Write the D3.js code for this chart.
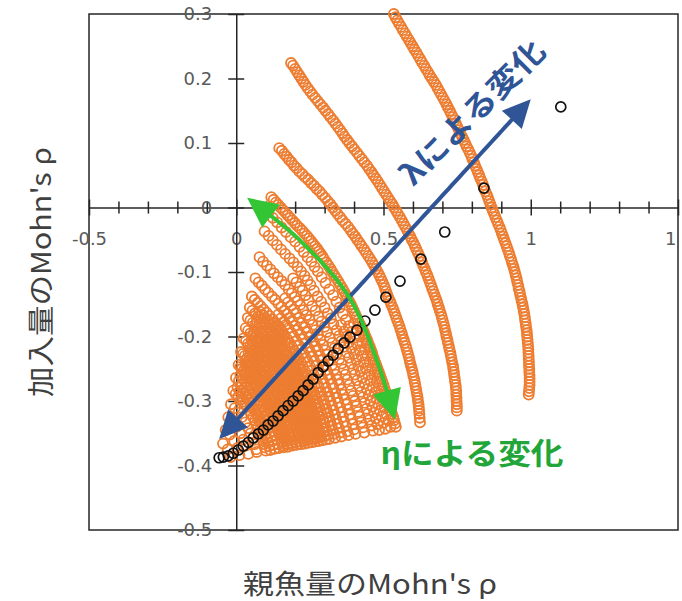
<!DOCTYPE html>
<html>
<head>
<meta charset="utf-8">
<script src="https://cdn.jsdelivr.net/npm/d3@7"></script>
<style>
  body { margin: 0; background: #fff; }
  svg { display: block; }
</style>
</head>
<body>
<svg id="chart" width="682" height="601"></svg>
<script>
// ---- axis ticks ----
const xMajorTicks = [-0.5, 0, 0.5, 1, 1.5];
const xTickLabels = ["-0.5", "0", "0.5", "1", "1"];
const xMinorTicks = [-0.4, -0.3, -0.2, -0.1, 0.1, 0.2, 0.3, 0.4, 0.6, 0.7, 0.8, 0.9, 1.1, 1.2, 1.3, 1.4];
const yTicks = [-0.5, -0.4, -0.3, -0.2, -0.1, 0, 0.1, 0.2, 0.3];
const yTickLabels = ["-0.5", "-0.4", "-0.3", "-0.2", "-0.1", "0", "0.1", "0.2", "0.3"];

// ---- orange series: one arc per λ level, points along each arc vary with η ----
const arc1 = [[0.535,0.300],[0.541,0.295],[0.547,0.290],[0.553,0.285],[0.560,0.280],[0.566,0.275],[0.573,0.270],[0.579,0.265],[0.586,0.260],[0.592,0.255],[0.599,0.250],[0.605,0.245],[0.612,0.240],[0.618,0.235],[0.625,0.230],[0.631,0.225],[0.638,0.220],[0.644,0.215],[0.651,0.210],[0.657,0.205],[0.664,0.200],[0.671,0.195],[0.678,0.190],[0.684,0.185],[0.690,0.180],[0.696,0.175],[0.702,0.170],[0.708,0.165],[0.714,0.160],[0.719,0.155],[0.725,0.150],[0.730,0.145],[0.736,0.140],[0.741,0.135],[0.746,0.130],[0.751,0.125],[0.756,0.120],[0.761,0.115],[0.767,0.110],[0.772,0.105],[0.777,0.100],[0.782,0.095],[0.788,0.090],[0.793,0.085],[0.798,0.080],[0.802,0.075],[0.807,0.070],[0.811,0.065],[0.816,0.060],[0.820,0.055],[0.825,0.050],[0.829,0.045],[0.834,0.040],[0.838,0.035],[0.842,0.030],[0.846,0.025],[0.851,0.020],[0.855,0.015],[0.859,0.010],[0.863,0.005],[0.867,0.000],[0.871,-0.005],[0.876,-0.010],[0.880,-0.015],[0.885,-0.020],[0.889,-0.025],[0.894,-0.030],[0.898,-0.035],[0.902,-0.040],[0.906,-0.045],[0.910,-0.050],[0.914,-0.055],[0.918,-0.060],[0.922,-0.065],[0.926,-0.070],[0.929,-0.075],[0.933,-0.080],[0.936,-0.085],[0.940,-0.090],[0.943,-0.095],[0.946,-0.100],[0.949,-0.105],[0.952,-0.110],[0.954,-0.115],[0.957,-0.120],[0.959,-0.125],[0.962,-0.130],[0.964,-0.135],[0.967,-0.140],[0.969,-0.145],[0.972,-0.150],[0.974,-0.155],[0.976,-0.160],[0.978,-0.165],[0.980,-0.170],[0.981,-0.175],[0.983,-0.180],[0.984,-0.185],[0.986,-0.190],[0.987,-0.195],[0.988,-0.200],[0.989,-0.205],[0.990,-0.210],[0.991,-0.215],[0.992,-0.220],[0.992,-0.225],[0.993,-0.230],[0.993,-0.235],[0.994,-0.240],[0.994,-0.245],[0.995,-0.250],[0.995,-0.255],[0.996,-0.260],[0.996,-0.265],[0.996,-0.270],[0.996,-0.275],[0.995,-0.280],[0.994,-0.285],[0.993,-0.290]];
const arc2 = [[0.186,0.224],[0.193,0.220],[0.200,0.215],[0.207,0.210],[0.214,0.205],[0.221,0.200],[0.228,0.195],[0.235,0.190],[0.243,0.185],[0.251,0.180],[0.259,0.175],[0.268,0.170],[0.277,0.165],[0.286,0.160],[0.295,0.155],[0.303,0.150],[0.312,0.145],[0.320,0.140],[0.329,0.135],[0.337,0.130],[0.345,0.125],[0.353,0.120],[0.361,0.115],[0.368,0.110],[0.376,0.105],[0.384,0.100],[0.393,0.095],[0.401,0.090],[0.410,0.085],[0.418,0.080],[0.427,0.075],[0.435,0.070],[0.444,0.065],[0.451,0.060],[0.459,0.055],[0.466,0.050],[0.474,0.045],[0.481,0.040],[0.488,0.035],[0.495,0.030],[0.502,0.025],[0.509,0.020],[0.516,0.015],[0.523,0.010],[0.530,0.005],[0.536,0.000],[0.543,-0.005],[0.549,-0.010],[0.556,-0.015],[0.562,-0.020],[0.568,-0.025],[0.574,-0.030],[0.580,-0.035],[0.585,-0.040],[0.591,-0.045],[0.596,-0.050],[0.602,-0.055],[0.607,-0.060],[0.612,-0.065],[0.617,-0.070],[0.622,-0.075],[0.626,-0.080],[0.631,-0.085],[0.635,-0.090],[0.640,-0.095],[0.644,-0.100],[0.649,-0.105],[0.653,-0.110],[0.657,-0.115],[0.661,-0.120],[0.665,-0.125],[0.669,-0.130],[0.673,-0.135],[0.677,-0.140],[0.681,-0.145],[0.684,-0.150],[0.688,-0.155],[0.691,-0.160],[0.695,-0.165],[0.698,-0.170],[0.701,-0.175],[0.704,-0.180],[0.707,-0.185],[0.709,-0.190],[0.712,-0.195],[0.714,-0.200],[0.717,-0.205],[0.719,-0.210],[0.722,-0.215],[0.724,-0.220],[0.727,-0.225],[0.729,-0.230],[0.731,-0.235],[0.733,-0.240],[0.736,-0.245],[0.737,-0.250],[0.739,-0.255],[0.740,-0.260],[0.742,-0.265],[0.743,-0.270],[0.745,-0.275],[0.746,-0.280],[0.747,-0.285],[0.747,-0.290],[0.748,-0.295],[0.748,-0.300],[0.749,-0.305],[0.749,-0.310],[0.749,-0.315]];
const arc3 = [[0.146,0.092],[0.155,0.088],[0.163,0.083],[0.171,0.079],[0.179,0.074],[0.188,0.070],[0.196,0.065],[0.205,0.061],[0.214,0.056],[0.224,0.052],[0.234,0.047],[0.244,0.043],[0.254,0.038],[0.264,0.034],[0.273,0.029],[0.283,0.025],[0.292,0.020],[0.302,0.015],[0.311,0.010],[0.320,0.005],[0.328,0.000],[0.336,-0.005],[0.344,-0.010],[0.353,-0.015],[0.361,-0.020],[0.371,-0.025],[0.380,-0.030],[0.388,-0.035],[0.396,-0.040],[0.404,-0.045],[0.411,-0.050],[0.419,-0.055],[0.426,-0.060],[0.434,-0.065],[0.441,-0.070],[0.448,-0.075],[0.455,-0.080],[0.462,-0.085],[0.468,-0.090],[0.474,-0.095],[0.480,-0.100],[0.486,-0.105],[0.491,-0.110],[0.496,-0.115],[0.501,-0.120],[0.505,-0.125],[0.509,-0.130],[0.513,-0.135],[0.517,-0.140],[0.522,-0.145],[0.526,-0.150],[0.531,-0.155],[0.535,-0.160],[0.539,-0.165],[0.543,-0.170],[0.547,-0.175],[0.551,-0.180],[0.555,-0.185],[0.558,-0.190],[0.562,-0.195],[0.565,-0.200],[0.569,-0.205],[0.572,-0.210],[0.576,-0.215],[0.579,-0.220],[0.582,-0.225],[0.585,-0.230],[0.588,-0.235],[0.590,-0.240],[0.593,-0.245],[0.596,-0.250],[0.599,-0.255],[0.601,-0.260],[0.604,-0.265],[0.606,-0.270],[0.608,-0.275],[0.610,-0.280],[0.612,-0.285],[0.614,-0.290],[0.616,-0.295],[0.617,-0.300],[0.619,-0.305],[0.620,-0.310],[0.621,-0.315],[0.622,-0.320],[0.623,-0.326],[0.624,-0.333]];
const arc4 = [[0.119,0.016],[0.127,0.012],[0.135,0.008],[0.143,0.004],[0.151,0.000],[0.159,-0.004],[0.167,-0.008],[0.175,-0.012],[0.183,-0.016],[0.191,-0.020],[0.199,-0.024],[0.207,-0.028],[0.216,-0.032],[0.224,-0.036],[0.232,-0.040],[0.240,-0.044],[0.247,-0.048],[0.254,-0.052],[0.261,-0.056],[0.268,-0.060],[0.275,-0.064],[0.281,-0.068],[0.287,-0.072],[0.293,-0.076],[0.298,-0.080],[0.306,-0.085],[0.313,-0.090],[0.320,-0.095],[0.326,-0.100],[0.333,-0.105],[0.340,-0.110],[0.347,-0.115],[0.353,-0.120],[0.360,-0.125],[0.366,-0.130],[0.372,-0.135],[0.377,-0.140],[0.383,-0.145],[0.389,-0.150],[0.394,-0.155],[0.399,-0.160],[0.404,-0.165],[0.409,-0.170],[0.414,-0.175],[0.419,-0.180],[0.425,-0.185],[0.430,-0.190],[0.435,-0.195],[0.439,-0.200],[0.444,-0.205],[0.448,-0.210],[0.453,-0.215],[0.457,-0.220],[0.461,-0.225],[0.464,-0.230],[0.468,-0.235],[0.472,-0.240],[0.476,-0.245],[0.480,-0.250],[0.484,-0.255],[0.488,-0.260],[0.492,-0.265],[0.496,-0.270],[0.500,-0.275],[0.503,-0.280],[0.507,-0.285],[0.510,-0.290],[0.513,-0.295],[0.516,-0.300],[0.520,-0.305],[0.523,-0.310],[0.526,-0.315],[0.529,-0.320],[0.533,-0.325],[0.536,-0.330],[0.539,-0.335],[0.542,-0.340]];
const arc4b = [[0.399,-0.180],[0.409,-0.190],[0.419,-0.200],[0.428,-0.210],[0.437,-0.220],[0.445,-0.230],[0.453,-0.240],[0.461,-0.250],[0.469,-0.260],[0.477,-0.270],[0.484,-0.280],[0.491,-0.290],[0.498,-0.300],[0.504,-0.310],[0.510,-0.320],[0.517,-0.330],[0.524,-0.340]];
const arc5 = [[0.109,-0.008],[0.124,-0.016],[0.139,-0.023],[0.154,-0.031],[0.169,-0.038],[0.185,-0.046],[0.200,-0.053],[0.215,-0.061],[0.229,-0.069],[0.242,-0.077],[0.255,-0.084],[0.266,-0.092],[0.277,-0.099],[0.290,-0.108],[0.303,-0.117],[0.316,-0.127],[0.329,-0.136],[0.340,-0.146],[0.351,-0.155],[0.362,-0.165],[0.372,-0.174],[0.382,-0.184],[0.391,-0.193],[0.400,-0.202],[0.409,-0.211],[0.418,-0.221],[0.426,-0.230],[0.433,-0.240],[0.440,-0.249],[0.448,-0.259],[0.455,-0.268],[0.463,-0.278],[0.470,-0.287],[0.476,-0.296],[0.482,-0.305],[0.488,-0.315],[0.494,-0.324],[0.500,-0.334],[0.506,-0.343]];
const arc5b = [[0.356,-0.182],[0.366,-0.192],[0.374,-0.200],[0.383,-0.209],[0.392,-0.218],[0.401,-0.227],[0.408,-0.236],[0.415,-0.246],[0.422,-0.254],[0.429,-0.264],[0.436,-0.273],[0.444,-0.282],[0.450,-0.291],[0.456,-0.300],[0.462,-0.309],[0.468,-0.318],[0.474,-0.327],[0.480,-0.336],[0.485,-0.345]];
const arc6 = [[0.096,-0.037],[0.110,-0.044],[0.124,-0.051],[0.138,-0.058],[0.152,-0.065],[0.166,-0.072],[0.181,-0.079],[0.194,-0.085],[0.208,-0.092],[0.220,-0.099],[0.232,-0.106],[0.242,-0.113],[0.252,-0.120],[0.264,-0.129],[0.276,-0.138],[0.288,-0.146],[0.300,-0.155],[0.310,-0.164],[0.321,-0.172],[0.330,-0.181],[0.340,-0.190],[0.349,-0.199],[0.357,-0.207],[0.366,-0.216],[0.375,-0.225],[0.383,-0.233],[0.390,-0.242],[0.397,-0.251],[0.403,-0.259],[0.410,-0.268],[0.417,-0.277],[0.424,-0.286],[0.430,-0.294],[0.436,-0.303],[0.442,-0.312],[0.447,-0.320],[0.453,-0.329],[0.459,-0.338],[0.464,-0.346]];
const arc6b = [[0.193,-0.110],[0.204,-0.116],[0.216,-0.123],[0.225,-0.129],[0.235,-0.136],[0.246,-0.144],[0.257,-0.153],[0.269,-0.160],[0.280,-0.169],[0.289,-0.177],[0.300,-0.185],[0.308,-0.193],[0.318,-0.202],[0.326,-0.210],[0.334,-0.218],[0.342,-0.226],[0.350,-0.235],[0.358,-0.242],[0.365,-0.251],[0.371,-0.259],[0.377,-0.267],[0.384,-0.275],[0.390,-0.284],[0.397,-0.292],[0.403,-0.300],[0.408,-0.308],[0.414,-0.317],[0.419,-0.324],[0.424,-0.333],[0.430,-0.341],[0.435,-0.349]];
const arc7 = [[0.079,-0.077],[0.091,-0.084],[0.104,-0.090],[0.116,-0.096],[0.128,-0.102],[0.141,-0.108],[0.154,-0.114],[0.166,-0.120],[0.178,-0.127],[0.188,-0.133],[0.199,-0.139],[0.208,-0.145],[0.217,-0.151],[0.228,-0.159],[0.238,-0.167],[0.249,-0.174],[0.259,-0.182],[0.268,-0.190],[0.278,-0.197],[0.286,-0.205],[0.295,-0.213],[0.302,-0.221],[0.310,-0.228],[0.318,-0.236],[0.325,-0.244],[0.332,-0.251],[0.339,-0.259],[0.345,-0.267],[0.351,-0.274],[0.357,-0.282],[0.363,-0.290],[0.369,-0.298],[0.375,-0.305],[0.380,-0.313],[0.385,-0.321],[0.390,-0.328],[0.395,-0.336],[0.400,-0.344],[0.405,-0.351]];
const arc7b = [[0.166,-0.141],[0.176,-0.147],[0.186,-0.152],[0.195,-0.158],[0.203,-0.164],[0.214,-0.171],[0.223,-0.179],[0.234,-0.186],[0.243,-0.193],[0.252,-0.201],[0.261,-0.207],[0.269,-0.215],[0.277,-0.222],[0.284,-0.230],[0.291,-0.237],[0.299,-0.244],[0.306,-0.252],[0.312,-0.259],[0.319,-0.266],[0.325,-0.274],[0.330,-0.280],[0.336,-0.288],[0.342,-0.295],[0.347,-0.303],[0.353,-0.310],[0.358,-0.317],[0.362,-0.325],[0.367,-0.332],[0.372,-0.339],[0.377,-0.347],[0.381,-0.353]];
const arc8 = [[0.065,-0.110],[0.076,-0.116],[0.087,-0.121],[0.098,-0.127],[0.109,-0.132],[0.121,-0.138],[0.132,-0.143],[0.143,-0.149],[0.153,-0.154],[0.163,-0.160],[0.173,-0.165],[0.181,-0.171],[0.189,-0.176],[0.199,-0.183],[0.208,-0.190],[0.218,-0.197],[0.227,-0.204],[0.235,-0.211],[0.243,-0.217],[0.251,-0.224],[0.258,-0.231],[0.265,-0.238],[0.272,-0.245],[0.279,-0.252],[0.286,-0.259],[0.292,-0.266],[0.298,-0.273],[0.304,-0.280],[0.309,-0.286],[0.315,-0.293],[0.320,-0.300],[0.325,-0.307],[0.330,-0.314],[0.335,-0.321],[0.339,-0.328],[0.344,-0.335],[0.348,-0.342],[0.353,-0.349],[0.357,-0.355]];
const arc8b = [[0.143,-0.166],[0.152,-0.172],[0.162,-0.177],[0.169,-0.182],[0.177,-0.187],[0.186,-0.194],[0.195,-0.200],[0.204,-0.207],[0.213,-0.214],[0.221,-0.220],[0.228,-0.226],[0.236,-0.233],[0.242,-0.239],[0.249,-0.246],[0.256,-0.253],[0.262,-0.259],[0.269,-0.266],[0.275,-0.273],[0.280,-0.279],[0.286,-0.286],[0.291,-0.292],[0.296,-0.298],[0.301,-0.305],[0.306,-0.312],[0.311,-0.318],[0.315,-0.325],[0.319,-0.331],[0.324,-0.338],[0.328,-0.345],[0.332,-0.351],[0.336,-0.357]];
const arc9 = [[0.053,-0.138],[0.063,-0.143],[0.073,-0.148],[0.083,-0.153],[0.093,-0.158],[0.103,-0.163],[0.113,-0.168],[0.123,-0.173],[0.132,-0.178],[0.141,-0.183],[0.150,-0.188],[0.157,-0.193],[0.164,-0.198],[0.173,-0.204],[0.181,-0.210],[0.190,-0.217],[0.198,-0.223],[0.206,-0.229],[0.213,-0.235],[0.220,-0.241],[0.226,-0.247],[0.233,-0.254],[0.239,-0.260],[0.245,-0.266],[0.251,-0.272],[0.257,-0.279],[0.262,-0.285],[0.267,-0.291],[0.272,-0.297],[0.277,-0.303],[0.282,-0.309],[0.287,-0.316],[0.291,-0.322],[0.295,-0.328],[0.299,-0.334],[0.303,-0.341],[0.307,-0.347],[0.311,-0.353],[0.315,-0.359]];
const arc9b = [[0.079,-0.161],[0.088,-0.166],[0.098,-0.171],[0.108,-0.175],[0.117,-0.180],[0.126,-0.185],[0.135,-0.190],[0.143,-0.195],[0.150,-0.200],[0.157,-0.204],[0.166,-0.210],[0.174,-0.216],[0.182,-0.223],[0.190,-0.228],[0.198,-0.234],[0.205,-0.240],[0.211,-0.246],[0.217,-0.252],[0.224,-0.259],[0.230,-0.264],[0.236,-0.270],[0.242,-0.276],[0.247,-0.283],[0.252,-0.288],[0.257,-0.294],[0.262,-0.300],[0.267,-0.306],[0.271,-0.312],[0.276,-0.319],[0.280,-0.324],[0.284,-0.330],[0.288,-0.336],[0.292,-0.343],[0.296,-0.348],[0.300,-0.354],[0.303,-0.360]];
const arc10 = [[0.046,-0.155],[0.055,-0.160],[0.064,-0.164],[0.074,-0.169],[0.083,-0.173],[0.093,-0.178],[0.102,-0.182],[0.111,-0.187],[0.120,-0.192],[0.128,-0.197],[0.136,-0.201],[0.143,-0.206],[0.150,-0.210],[0.158,-0.216],[0.166,-0.222],[0.174,-0.228],[0.182,-0.233],[0.189,-0.239],[0.196,-0.245],[0.202,-0.251],[0.208,-0.257],[0.214,-0.263],[0.220,-0.268],[0.226,-0.274],[0.232,-0.280],[0.237,-0.286],[0.242,-0.291],[0.247,-0.297],[0.251,-0.303],[0.256,-0.309],[0.260,-0.315],[0.265,-0.321],[0.269,-0.326],[0.273,-0.332],[0.276,-0.338],[0.280,-0.344],[0.284,-0.349],[0.288,-0.355],[0.291,-0.361]];
const arc10b = [[0.070,-0.177],[0.079,-0.181],[0.088,-0.186],[0.097,-0.190],[0.106,-0.194],[0.114,-0.199],[0.122,-0.204],[0.130,-0.208],[0.137,-0.213],[0.143,-0.217],[0.151,-0.222],[0.159,-0.228],[0.166,-0.234],[0.174,-0.239],[0.181,-0.245],[0.187,-0.250],[0.193,-0.256],[0.199,-0.262],[0.205,-0.268],[0.211,-0.273],[0.217,-0.278],[0.222,-0.284],[0.227,-0.290],[0.232,-0.295],[0.237,-0.301],[0.241,-0.306],[0.245,-0.312],[0.249,-0.318],[0.254,-0.324],[0.258,-0.329],[0.262,-0.334],[0.265,-0.340],[0.269,-0.346],[0.272,-0.351],[0.276,-0.357],[0.279,-0.362]];
const arc11 = [[0.039,-0.171],[0.048,-0.175],[0.056,-0.179],[0.065,-0.184],[0.074,-0.188],[0.083,-0.193],[0.091,-0.197],[0.100,-0.201],[0.108,-0.205],[0.116,-0.210],[0.123,-0.214],[0.130,-0.219],[0.136,-0.223],[0.144,-0.228],[0.151,-0.233],[0.158,-0.239],[0.165,-0.244],[0.172,-0.250],[0.178,-0.255],[0.184,-0.261],[0.190,-0.266],[0.196,-0.272],[0.201,-0.277],[0.207,-0.282],[0.212,-0.287],[0.217,-0.293],[0.221,-0.298],[0.226,-0.304],[0.230,-0.309],[0.234,-0.315],[0.238,-0.320],[0.242,-0.326],[0.246,-0.331],[0.250,-0.336],[0.253,-0.341],[0.257,-0.347],[0.260,-0.352],[0.264,-0.358],[0.267,-0.363]];
const arc11b = [[0.061,-0.192],[0.069,-0.196],[0.078,-0.200],[0.086,-0.204],[0.095,-0.208],[0.102,-0.212],[0.110,-0.217],[0.117,-0.221],[0.123,-0.225],[0.129,-0.229],[0.137,-0.234],[0.144,-0.239],[0.151,-0.245],[0.157,-0.250],[0.164,-0.255],[0.170,-0.260],[0.176,-0.266],[0.181,-0.271],[0.187,-0.276],[0.192,-0.281],[0.197,-0.286],[0.202,-0.291],[0.207,-0.297],[0.211,-0.302],[0.216,-0.307],[0.220,-0.312],[0.224,-0.318],[0.228,-0.323],[0.232,-0.328],[0.235,-0.333],[0.239,-0.338],[0.242,-0.343],[0.246,-0.349],[0.249,-0.354],[0.253,-0.359],[0.256,-0.364]];
const arc12 = [[0.032,-0.187],[0.040,-0.191],[0.048,-0.195],[0.056,-0.199],[0.064,-0.203],[0.073,-0.207],[0.081,-0.211],[0.089,-0.215],[0.096,-0.219],[0.103,-0.223],[0.110,-0.227],[0.116,-0.231],[0.122,-0.235],[0.129,-0.240],[0.136,-0.245],[0.143,-0.250],[0.149,-0.255],[0.155,-0.260],[0.161,-0.265],[0.167,-0.270],[0.172,-0.275],[0.177,-0.280],[0.182,-0.285],[0.187,-0.290],[0.192,-0.295],[0.197,-0.300],[0.201,-0.305],[0.205,-0.310],[0.209,-0.315],[0.213,-0.320],[0.217,-0.325],[0.221,-0.330],[0.224,-0.335],[0.228,-0.340],[0.231,-0.345],[0.234,-0.350],[0.237,-0.355],[0.241,-0.360],[0.244,-0.365]];
const arc12b = [[0.052,-0.207],[0.059,-0.211],[0.068,-0.215],[0.076,-0.218],[0.083,-0.222],[0.090,-0.226],[0.097,-0.230],[0.104,-0.234],[0.109,-0.238],[0.115,-0.241],[0.122,-0.246],[0.128,-0.251],[0.135,-0.256],[0.141,-0.261],[0.147,-0.266],[0.153,-0.270],[0.158,-0.275],[0.163,-0.280],[0.168,-0.285],[0.173,-0.289],[0.178,-0.294],[0.182,-0.299],[0.187,-0.304],[0.191,-0.309],[0.195,-0.314],[0.198,-0.318],[0.202,-0.323],[0.206,-0.328],[0.210,-0.333],[0.213,-0.337],[0.217,-0.342],[0.220,-0.347],[0.223,-0.352],[0.226,-0.357],[0.229,-0.362],[0.232,-0.366]];
const arc13 = [[0.025,-0.203],[0.033,-0.207],[0.040,-0.211],[0.047,-0.215],[0.054,-0.218],[0.062,-0.222],[0.070,-0.225],[0.077,-0.229],[0.084,-0.233],[0.091,-0.237],[0.097,-0.240],[0.102,-0.244],[0.107,-0.247],[0.114,-0.252],[0.120,-0.257],[0.127,-0.262],[0.133,-0.266],[0.139,-0.271],[0.144,-0.275],[0.149,-0.280],[0.154,-0.284],[0.159,-0.289],[0.163,-0.293],[0.168,-0.298],[0.172,-0.303],[0.177,-0.308],[0.181,-0.312],[0.184,-0.317],[0.187,-0.321],[0.191,-0.326],[0.195,-0.330],[0.199,-0.335],[0.202,-0.339],[0.205,-0.344],[0.208,-0.349],[0.211,-0.354],[0.214,-0.358],[0.217,-0.363],[0.220,-0.367]];
const arc13b = [[0.042,-0.225],[0.049,-0.228],[0.056,-0.231],[0.063,-0.234],[0.070,-0.238],[0.077,-0.242],[0.083,-0.245],[0.089,-0.248],[0.094,-0.252],[0.099,-0.255],[0.105,-0.260],[0.111,-0.264],[0.117,-0.269],[0.123,-0.273],[0.128,-0.277],[0.133,-0.281],[0.138,-0.286],[0.143,-0.290],[0.147,-0.295],[0.151,-0.299],[0.156,-0.303],[0.160,-0.308],[0.165,-0.312],[0.168,-0.316],[0.171,-0.321],[0.174,-0.325],[0.178,-0.330],[0.182,-0.334],[0.185,-0.338],[0.188,-0.342],[0.191,-0.347],[0.194,-0.351],[0.197,-0.356],[0.199,-0.360],[0.202,-0.364],[0.205,-0.368]];
const arc14 = [[0.016,-0.224],[0.023,-0.227],[0.029,-0.230],[0.036,-0.234],[0.043,-0.237],[0.050,-0.240],[0.056,-0.243],[0.063,-0.247],[0.069,-0.250],[0.075,-0.253],[0.080,-0.256],[0.085,-0.260],[0.090,-0.263],[0.096,-0.267],[0.101,-0.271],[0.107,-0.275],[0.112,-0.279],[0.117,-0.283],[0.122,-0.287],[0.127,-0.292],[0.131,-0.296],[0.135,-0.300],[0.139,-0.304],[0.144,-0.308],[0.148,-0.312],[0.152,-0.316],[0.155,-0.320],[0.158,-0.324],[0.161,-0.328],[0.165,-0.333],[0.168,-0.337],[0.171,-0.341],[0.174,-0.345],[0.177,-0.349],[0.179,-0.353],[0.182,-0.357],[0.184,-0.361],[0.187,-0.365],[0.190,-0.369]];
const arc14b = [[0.031,-0.244],[0.037,-0.246],[0.044,-0.249],[0.050,-0.252],[0.056,-0.256],[0.062,-0.259],[0.067,-0.262],[0.072,-0.265],[0.077,-0.268],[0.081,-0.271],[0.087,-0.275],[0.092,-0.279],[0.097,-0.283],[0.102,-0.286],[0.107,-0.290],[0.112,-0.294],[0.116,-0.298],[0.120,-0.302],[0.124,-0.306],[0.128,-0.309],[0.132,-0.313],[0.136,-0.317],[0.139,-0.321],[0.142,-0.325],[0.145,-0.329],[0.148,-0.332],[0.152,-0.337],[0.154,-0.340],[0.157,-0.344],[0.160,-0.348],[0.163,-0.352],[0.165,-0.356],[0.168,-0.360],[0.170,-0.363],[0.173,-0.367],[0.175,-0.371]];
const arc15 = [[0.008,-0.244],[0.014,-0.247],[0.019,-0.250],[0.025,-0.253],[0.031,-0.255],[0.037,-0.258],[0.043,-0.261],[0.049,-0.264],[0.054,-0.267],[0.059,-0.270],[0.064,-0.273],[0.068,-0.276],[0.072,-0.278],[0.077,-0.282],[0.082,-0.286],[0.087,-0.290],[0.092,-0.293],[0.097,-0.297],[0.101,-0.300],[0.105,-0.304],[0.108,-0.307],[0.112,-0.311],[0.116,-0.314],[0.120,-0.318],[0.123,-0.322],[0.126,-0.326],[0.129,-0.329],[0.132,-0.333],[0.135,-0.336],[0.138,-0.340],[0.140,-0.343],[0.143,-0.347],[0.146,-0.350],[0.149,-0.354],[0.151,-0.358],[0.153,-0.362],[0.155,-0.365],[0.158,-0.369],[0.160,-0.372]];
const arc15b = [[0.014,-0.260],[0.025,-0.265],[0.036,-0.270],[0.047,-0.276],[0.056,-0.281],[0.063,-0.286],[0.073,-0.293],[0.082,-0.300],[0.090,-0.307],[0.097,-0.313],[0.104,-0.320],[0.111,-0.327],[0.116,-0.333],[0.122,-0.340],[0.127,-0.347],[0.132,-0.353],[0.137,-0.360],[0.141,-0.367],[0.145,-0.373]];
const arc16 = [[-0.001,-0.264],[0.009,-0.269],[0.019,-0.274],[0.029,-0.279],[0.039,-0.284],[0.047,-0.289],[0.054,-0.294],[0.063,-0.300],[0.071,-0.306],[0.079,-0.313],[0.086,-0.319],[0.092,-0.325],[0.098,-0.331],[0.103,-0.337],[0.108,-0.343],[0.113,-0.350],[0.118,-0.356],[0.122,-0.362],[0.126,-0.368],[0.130,-0.374]];
const arc16b = [[0.004,-0.279],[0.013,-0.284],[0.023,-0.288],[0.032,-0.293],[0.039,-0.297],[0.046,-0.302],[0.054,-0.308],[0.061,-0.313],[0.068,-0.319],[0.075,-0.325],[0.080,-0.331],[0.086,-0.336],[0.091,-0.342],[0.095,-0.347],[0.100,-0.353],[0.104,-0.359],[0.108,-0.365],[0.112,-0.370],[0.115,-0.376]];
const arc17 = [[-0.010,-0.284],[-0.002,-0.289],[0.007,-0.293],[0.016,-0.297],[0.024,-0.301],[0.031,-0.305],[0.037,-0.309],[0.044,-0.315],[0.051,-0.320],[0.057,-0.325],[0.063,-0.330],[0.068,-0.336],[0.073,-0.341],[0.078,-0.346],[0.082,-0.351],[0.086,-0.356],[0.090,-0.361],[0.094,-0.367],[0.097,-0.372],[0.100,-0.377]];
const arc18 = [[-0.018,-0.305],[-0.005,-0.311],[0.008,-0.318],[0.019,-0.325],[0.031,-0.333],[0.040,-0.342],[0.049,-0.350],[0.056,-0.358],[0.062,-0.367],[0.068,-0.375],[0.070,-0.379]];
const arc19 = [[-0.027,-0.325],[-0.012,-0.333],[0.001,-0.340],[0.014,-0.350],[0.024,-0.360],[0.032,-0.369],[0.041,-0.382]];
const arc20 = [[-0.036,-0.345],[-0.022,-0.352],[-0.007,-0.362],[0.003,-0.373],[0.011,-0.384]];
const arc21 = [[-0.045,-0.366],[-0.029,-0.375],[-0.019,-0.387]];

// ---- black series: η fixed, λ varying ----
const blackPts = [[1.102,0.156],[0.841,0.030],[0.708,-0.038],[0.627,-0.080],[0.556,-0.114],[0.508,-0.139],[0.471,-0.159],[0.437,-0.176],[0.410,-0.190],[0.386,-0.201],[0.366,-0.210],[0.346,-0.219],[0.329,-0.229],[0.312,-0.238],[0.295,-0.247],[0.278,-0.256],[0.261,-0.266],[0.244,-0.275],[0.227,-0.284],[0.210,-0.292],[0.193,-0.300],[0.176,-0.307],[0.159,-0.315],[0.142,-0.323],[0.125,-0.331],[0.108,-0.337],[0.092,-0.345],[0.075,-0.351],[0.058,-0.357],[0.041,-0.364],[0.024,-0.370],[0.007,-0.376],[-0.010,-0.381],[-0.027,-0.385],[-0.044,-0.387],[-0.058,-0.388]];

// ---- annotation arrows (tip-to-tip, data units) ----
const lambdaArrow = [[-0.058,-0.359],[1.0,0.168]];
const etaArrow = [[0.037,0.015],[0.214,-0.050],[0.383,-0.139],[0.485,-0.247],[0.539,-0.329]];

const orangeArcs = [arc21, arc20, arc19, arc18, arc17, arc16b, arc16, arc15b, arc15, arc14b, arc14, arc13b, arc13, arc12b, arc12, arc11b, arc11, arc10b, arc10, arc9b, arc9, arc8b, arc8, arc7b, arc7, arc6b, arc6, arc5b, arc5, arc4b, arc4, arc3, arc2, arc1];

const svg = d3.select("#chart");
svg.append("rect").attr("width", 682).attr("height", 601).attr("fill", "#fff");

const x = d3.scaleLinear().domain([-0.5, 1.5]).range([89, 678]);
const y = d3.scaleLinear().domain([-0.5, 0.3]).range([530, 14]);

const axisColor = "#262626";
const labelColor = "#595959";
const tickFont = "'DejaVu Sans', 'Noto Sans', sans-serif";
const jpFont = "'Noto Sans CJK JP', 'Noto Sans', sans-serif";

// plot-area frame
svg.append("rect")
  .attr("x", x(-0.5)).attr("y", y(0.3))
  .attr("width", x(1.5) - x(-0.5)).attr("height", y(-0.5) - y(0.3))
  .attr("fill", "none").attr("stroke", axisColor).attr("stroke-width", 1.5);

// x axis (crosses at y = 0)
const gxMinor = svg.append("g")
  .attr("transform", `translate(0,${y(0)})`)
  .call(d3.axisBottom(x).tickValues(xMinorTicks).tickFormat("").tickSize(6).tickSizeOuter(0));
gxMinor.select(".domain").remove();
gxMinor.selectAll(".tick line").attr("y1", -6).attr("y2", 6)
  .attr("stroke", axisColor).attr("stroke-width", 1.5);

const gx = svg.append("g")
  .attr("transform", `translate(0,${y(0)})`)
  .call(d3.axisBottom(x).tickValues(xMajorTicks)
    .tickFormat((d, i) => xTickLabels[i]).tickSize(8).tickPadding(17).tickSizeOuter(0));
gx.select(".domain").attr("stroke", axisColor).attr("stroke-width", 1.5);
gx.selectAll(".tick line").attr("y1", -8).attr("y2", 8)
  .attr("stroke", axisColor).attr("stroke-width", 1.5);
gx.selectAll(".tick text")
  .attr("fill", labelColor).attr("font-family", tickFont).attr("font-size", 18);
// the right-most label sits against the chart edge
gx.selectAll(".tick text").filter((d, i) => i === xMajorTicks.length - 1)
  .attr("text-anchor", "end").attr("dx", -2);

// y axis (crosses at x = 0)
const gy = svg.append("g")
  .attr("transform", `translate(${x(0)},0)`)
  .call(d3.axisLeft(y).tickValues(yTicks)
    .tickFormat((d, i) => yTickLabels[i]).tickSize(8).tickPadding(16).tickSizeOuter(0));
gy.select(".domain").attr("stroke", axisColor).attr("stroke-width", 1.5);
gy.selectAll(".tick line").attr("x1", -8).attr("x2", 8)
  .attr("stroke", axisColor).attr("stroke-width", 1.5);
gy.selectAll(".tick text")
  .attr("fill", labelColor).attr("font-family", tickFont).attr("font-size", 18);

// orange markers
svg.append("g").selectAll("circle")
  .data(orangeArcs.flat())
  .join("circle")
  .attr("cx", d => x(d[0])).attr("cy", d => y(d[1]))
  .attr("r", 5).attr("fill", "none")
  .attr("stroke", "#ED7D31").attr("stroke-width", 1.8);

// black markers
svg.append("g").selectAll("circle")
  .data(blackPts)
  .join("circle")
  .attr("cx", d => x(d[0])).attr("cy", d => y(d[1]))
  .attr("r", 5).attr("fill", "none")
  .attr("stroke", "#111").attr("stroke-width", 1.7);

// double-headed arrow along a path given in data units
function drawArrow(points, color, width, headLen, headWid, curved) {
  const pts = points.map(p => [x(p[0]), y(p[1])]);
  const gen = d3.line().curve(curved ? d3.curveCatmullRom.alpha(0.5) : d3.curveLinear);
  const tmp = svg.append("path").attr("d", gen(pts)).attr("fill", "none");
  const node = tmp.node();
  const L = node.getTotalLength();
  const trim = headLen * 0.8;
  const n = 80;
  const shaft = d3.range(n + 1).map(i => {
    const p = node.getPointAtLength(trim + (L - 2 * trim) * i / n);
    return [p.x, p.y];
  });
  const heads = [[0, headLen], [L, L - headLen]].map(([lt, lb]) => {
    const t = node.getPointAtLength(lt), b = node.getPointAtLength(lb);
    const dx = t.x - b.x, dy = t.y - b.y, len = Math.hypot(dx, dy);
    const nx = -dy / len * headWid / 2, ny = dx / len * headWid / 2;
    return [[t.x, t.y], [b.x + nx, b.y + ny], [b.x - nx, b.y - ny]];
  });
  tmp.remove();
  const g = svg.append("g");
  g.append("path").attr("d", d3.line()(shaft))
    .attr("fill", "none").attr("stroke", color).attr("stroke-width", width);
  heads.forEach(h => g.append("polygon").attr("points", h.map(p => p.join(",")).join(" ")).attr("fill", color));
}

drawArrow(lambdaArrow, "#2F5597", 4, 28, 27, false);
drawArrow(etaArrow, "#33C534", 4, 30, 29, true);

// annotation texts
svg.append("text")
  .attr("transform", "translate(471,111) rotate(-45)")
  .attr("text-anchor", "middle").attr("dominant-baseline", "central")
  .attr("font-family", jpFont).attr("font-weight", 700).attr("font-size", 30)
  .attr("fill", "#2F5597")
  .attr("textLength", 190).attr("lengthAdjust", "spacingAndGlyphs")
  .text("λによる変化");

svg.append("text")
  .attr("x", 472).attr("y", 451)
  .attr("text-anchor", "middle").attr("dominant-baseline", "central")
  .attr("font-family", jpFont).attr("font-weight", 700).attr("font-size", 30)
  .attr("fill", "#22A63A")
  .attr("textLength", 183).attr("lengthAdjust", "spacingAndGlyphs")
  .text("ηによる変化");

// axis titles
svg.append("text")
  .attr("x", 370).attr("y", 582)
  .attr("text-anchor", "middle").attr("dominant-baseline", "central")
  .attr("font-family", jpFont).attr("font-size", 27).attr("fill", "#404040")
  .attr("textLength", 254).attr("lengthAdjust", "spacingAndGlyphs")
  .text("親魚量のMohn's ρ");

svg.append("text")
  .attr("transform", "translate(39,272) rotate(-90)")
  .attr("text-anchor", "middle").attr("dominant-baseline", "central")
  .attr("font-family", jpFont).attr("font-size", 27).attr("fill", "#404040")
  .attr("textLength", 250).attr("lengthAdjust", "spacingAndGlyphs")
  .text("加入量のMohn's ρ");
</script>
</body>
</html>
